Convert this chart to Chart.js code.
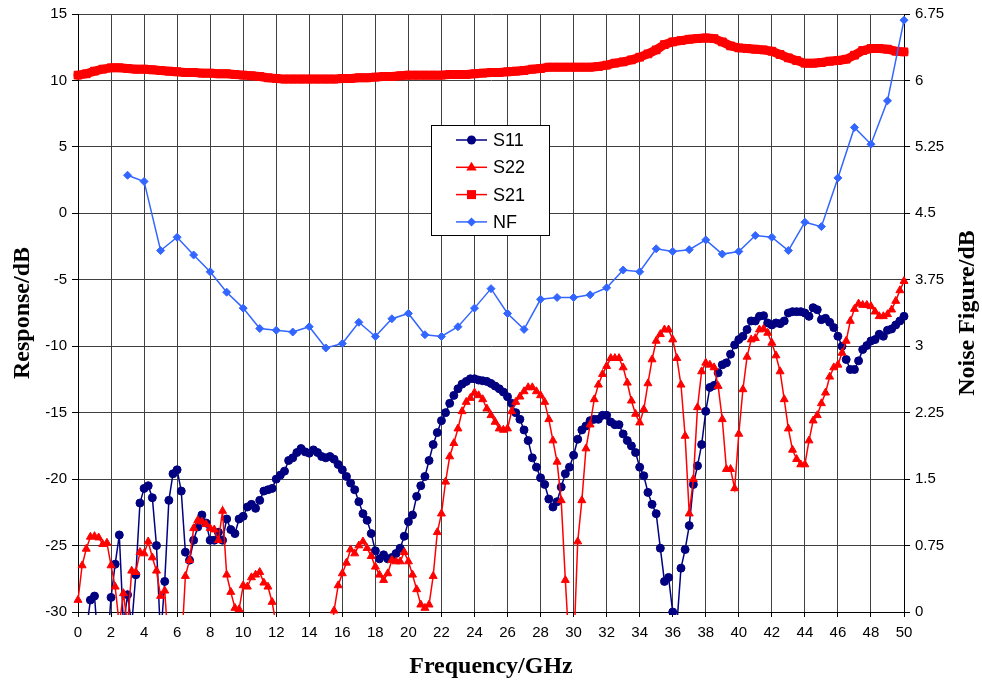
<!DOCTYPE html>
<html>
<head>
<meta charset="utf-8">
<script src="https://cdn.jsdelivr.net/npm/chart.js@4.4.1/dist/chart.umd.min.js"></script>
<style>
  html, body { margin: 0; padding: 0; background: #fff; }
  canvas { display: block; }
</style>
</head>
<body>
<canvas id="canvas" width="982" height="685"></canvas>
<script>
// balayage VNA : 201 points de 0 à 50 GHz (pas de 0,25 GHz)
const sweepGHz = Array.from({ length: 201 }, (_, i) => i * 0.25);
// S21 relevé tous les 0,5 GHz, NF tous les 1 GHz de 3 à 50 GHz
const s21GHz = Array.from({ length: 101 }, (_, i) => i * 0.5);
const nfGHz = Array.from({ length: 48 }, (_, i) => i + 3);

const s11 = [
  -34, -37, -31.5, -29.1, -28.8, -33, -38, -33, -28.9, -26.4,
  -24.2, -31, -28.7, -31, -27.2, -21.8, -20.7, -20.5, -21.4, -25.0,
  -32, -27.7, -21.6, -19.6, -19.3, -20.9, -25.5, -26.1, -24.6, -23.6,
  -22.7, -23.3, -24.6, -24.6, -24.0, -24.6, -23.0, -23.8, -24.1, -23.0,
  -22.8, -22.1, -21.9, -22.2, -21.6, -20.9, -20.8, -20.7, -20.0, -19.7,
  -19.4, -18.6, -18.4, -18.0, -17.7, -17.95, -18.05, -17.8, -18.0, -18.3,
  -18.4, -18.3, -18.5, -18.9, -19.3, -19.8, -20.3, -20.8, -21.7, -22.6,
  -23.1, -24.1, -25.4, -26.0, -25.7, -26.0, -25.9, -25.6, -25.2, -24.3,
  -23.2, -22.7, -21.3, -20.5, -19.8, -18.6, -17.4, -16.5, -15.6, -15.0,
  -14.3, -13.7, -13.2, -12.85, -12.65, -12.45, -12.45, -12.55, -12.6, -12.65,
  -12.8, -13.0, -13.2, -13.45, -13.8, -14.3, -15.0, -15.5, -16.3, -17.1,
  -18.4, -19.1, -19.9, -20.4, -21.5, -22.1, -21.7, -20.6, -19.6, -19.1,
  -18.2, -17.0, -16.3, -16.0, -15.6, -15.5, -15.5, -15.2, -15.2, -15.7,
  -15.9, -15.9, -16.6, -17.1, -17.5, -18.0, -19.1, -19.75, -21.0, -21.9,
  -22.6, -25.2, -27.7, -27.4, -30.0, -31, -26.7, -25.3, -23.5, -20.4,
  -19.0, -17.4, -14.9, -13.1, -12.95, -12.0, -11.4, -11.25, -10.6, -9.9,
  -9.5, -9.25, -8.75, -8.1, -8.1, -7.75, -7.7, -8.25, -8.4, -8.25,
  -8.3, -8.1, -7.5, -7.4, -7.4, -7.4, -7.5, -7.75, -7.1, -7.25,
  -8.0, -7.9, -8.2, -8.6, -9.25, -10.0, -11.0, -11.75, -11.75, -11.1,
  -10.25, -9.95, -9.6, -9.5, -9.1, -9.25, -8.8, -8.7, -8.4, -8.1,
  -7.75
];

const s22 = [
  -29.1, -26.5, -25.25, -24.35, -24.3, -24.4, -24.9, -24.8, -26.5, -28.1,
  -31, -28.6, -31, -26.9, -27.0, -25.5, -25.6, -24.7, -25.9, -26.9,
  -28.8, -28.4, -33, -36, -36, -33, -27.3, -26.1, -23.7, -23.1,
  -23.2, -23.4, -23.7, -23.8, -24.6, -22.4, -27.2, -28.5, -29.7, -29.8,
  -28.0, -28.1, -27.4, -27.2, -27.0, -27.8, -28.1, -29.25, -31, -35,
  -35, -35, -35, -35, -35, -35, -35, -35, -35, -35,
  -35, -33, -29.9, -28.0, -27.1, -26.3, -25.3, -25.6, -25.0, -24.7,
  -25.2, -25.8, -26.6, -27.2, -27.6, -27.1, -26.1, -26.2, -26.2, -25.5,
  -26.2, -27.2, -28.3, -29.45, -29.7, -29.45, -27.3, -24.0, -22.6, -20.2,
  -18.3, -17.3, -16.2, -14.9, -14.2, -13.9, -13.5, -13.7, -14.0, -14.7,
  -15.2, -15.7, -16.2, -16.3, -16.2, -14.9, -14.2, -13.8, -13.4, -13.1,
  -13.1, -13.4, -13.7, -14.2, -15.5, -17.1, -18.7, -21.6, -27.6, -33,
  -33, -24.7, -21.6, -17.7, -15.9, -14.0, -12.9, -12.1, -11.5, -10.9,
  -10.9, -10.9, -11.6, -12.75, -14.1, -15.1, -15.75, -14.75, -12.8, -11.0,
  -9.6, -9.1, -8.75, -8.75, -9.5, -10.9, -12.9, -16.75, -22.6, -20.0,
  -14.6, -11.9, -11.25, -11.4, -11.6, -13.0, -15.5, -19.25, -19.25, -20.7,
  -16.6, -13.25, -10.8, -9.5, -9.4, -8.75, -8.7, -9.0, -9.75, -10.7,
  -11.9, -14.0, -16.2, -17.8, -18.5, -18.9, -18.9, -17.1, -15.6, -15.2,
  -14.3, -13.5, -12.3, -11.6, -11.4, -10.5, -9.6, -8.1, -7.2, -6.8,
  -6.9, -6.9, -7.0, -7.4, -7.75, -7.75, -7.6, -7.25, -6.6, -5.8,
  -5.1
];

const s21 = [
  10.4, 10.5, 10.7, 10.85, 10.95, 10.95, 10.9, 10.85, 10.85, 10.8,
  10.75, 10.7, 10.65, 10.6, 10.6, 10.55, 10.55, 10.5, 10.5, 10.45,
  10.4, 10.35, 10.3, 10.2, 10.15, 10.1, 10.1, 10.1, 10.1, 10.1,
  10.1, 10.1, 10.15, 10.15, 10.2, 10.2, 10.25, 10.3, 10.3, 10.35,
  10.4, 10.4, 10.4, 10.4, 10.4, 10.45, 10.45, 10.45, 10.5, 10.55,
  10.6, 10.6, 10.65, 10.7, 10.75, 10.85, 10.9, 11.0, 11.0, 11.0,
  11.0, 11.0, 11.0, 11.05, 11.15, 11.3, 11.4, 11.55, 11.75, 12.0,
  12.3, 12.7, 12.9, 13.0, 13.1, 13.15, 13.2, 13.15, 12.9, 12.6,
  12.45, 12.4, 12.35, 12.3, 12.2, 11.95, 11.7, 11.5, 11.3, 11.3,
  11.35, 11.45, 11.5, 11.6, 11.9, 12.25, 12.4, 12.4, 12.35, 12.2,
  12.15
];

const nf = [
  4.93, 4.86, 4.08, 4.23, 4.03, 3.84, 3.61, 3.43, 3.2, 3.18,
  3.16, 3.22, 2.98, 3.03, 3.27, 3.11, 3.31, 3.37, 3.13, 3.11,
  3.22, 3.43, 3.65, 3.37, 3.19, 3.53, 3.55, 3.55, 3.58, 3.66,
  3.86, 3.84, 4.1, 4.07, 4.09, 4.2, 4.04, 4.07, 4.25, 4.23,
  4.08, 4.4, 4.35, 4.9, 5.47, 5.28, 5.77, 6.68
];

const NAVY = '#000080';
const RED = '#ff0000';
const BLUE = '#3366ff';
const tickFont = { family: '"Liberation Sans", Arial, sans-serif', size: 15 };
const titleFont = { family: '"Liberation Serif", "Times New Roman", serif', size: 24, weight: 'bold' };
const clip = { left: 6, top: 6, right: 6, bottom: 3 };

function xy(xs, ys) {
    return ys.map((v, i) => ({ x: xs[i], y: v }));
}

// petit dessin des marqueurs pour la légende
function marker(ctx, style, x, y, r) {
    ctx.beginPath();
    if (style === 'circle') {
        ctx.arc(x, y, r, 0, Math.PI * 2);
    } else if (style === 'triangle') {
        ctx.moveTo(x, y - r);
        ctx.lineTo(x + r * 0.95, y + r * 0.6);
        ctx.lineTo(x - r * 0.95, y + r * 0.6);
        ctx.closePath();
    } else if (style === 'rect') {
        ctx.rect(x - r, y - r, 2 * r, 2 * r);
    } else {
        ctx.moveTo(x, y - r);
        ctx.lineTo(x + r, y);
        ctx.lineTo(x, y + r);
        ctx.lineTo(x - r, y);
        ctx.closePath();
    }
    ctx.fill();
}

const legendItems = [
    { text: 'S11', color: NAVY, style: 'circle', r: 4.5 },
    { text: 'S22', color: RED, style: 'triangle', r: 5.5 },
    { text: 'S21', color: RED, style: 'rect', r: 4.5 },
    { text: 'NF', color: BLUE, style: 'diamond', r: 4.5 }
];

const legendBox = {
    id: 'legendBox',
    afterDraw(chart) {
        const ctx = chart.ctx;
        ctx.save();
        ctx.fillStyle = '#fff';
        ctx.fillRect(431, 125, 118, 110);
        ctx.strokeStyle = '#000';
        ctx.lineWidth = 1;
        ctx.strokeRect(431.5, 125.5, 118, 110);
        ctx.font = '18px "Liberation Sans", Arial, sans-serif';
        ctx.textBaseline = 'middle';
        legendItems.forEach((it, i) => {
            const y = 140 + i * 27.3;
            ctx.strokeStyle = it.color;
            ctx.lineWidth = 1.5;
            ctx.beginPath();
            ctx.moveTo(456, y);
            ctx.lineTo(487, y);
            ctx.stroke();
            ctx.fillStyle = it.color;
            marker(ctx, it.style, 471.5, y, it.r);
            ctx.fillStyle = '#000';
            ctx.fillText(it.text, 493, y + 1);
        });
        ctx.restore();
    }
};

// titre de l'axe secondaire, écrit de bas en haut comme à gauche
const rightTitle = {
    id: 'rightTitle',
    afterDraw(chart) {
        const ctx = chart.ctx;
        const a = chart.chartArea;
        ctx.save();
        ctx.translate(968, (a.top + a.bottom) / 2);
        ctx.rotate(-Math.PI / 2);
        ctx.font = 'bold 24px "Liberation Serif", "Times New Roman", serif';
        ctx.fillStyle = '#000';
        ctx.textAlign = 'center';
        ctx.textBaseline = 'middle';
        ctx.fillText('Noise Figure/dB', 0, 0);
        ctx.restore();
    }
};

const config = {
    type: 'line',
    data: {
        datasets: [
            {
                label: 'S11', data: xy(sweepGHz, s11), yAxisID: 'y', order: 4,
                borderColor: NAVY, backgroundColor: NAVY, borderWidth: 1.5,
                pointStyle: 'circle', pointRadius: 4, pointBorderWidth: 1, clip: clip
            },
            {
                label: 'S22', data: xy(sweepGHz, s22), yAxisID: 'y', order: 3,
                borderColor: RED, backgroundColor: RED, borderWidth: 1.5,
                pointStyle: 'triangle', pointRadius: 4.6, pointBorderWidth: 1, clip: clip
            },
            {
                label: 'S21', data: xy(s21GHz, s21), yAxisID: 'y', order: 2,
                borderColor: RED, backgroundColor: RED, borderWidth: 9,
                borderJoinStyle: 'round', borderCapStyle: 'round',
                pointStyle: 'rect', pointRadius: 5.5, pointBorderWidth: 1, clip: clip
            },
            {
                label: 'NF', data: xy(nfGHz, nf), yAxisID: 'y2', order: 1,
                borderColor: BLUE, backgroundColor: BLUE, borderWidth: 1.5,
                pointStyle: 'rectRot', pointRadius: 4, pointBorderWidth: 1, clip: clip
            }
        ]
    },
    options: {
        responsive: false,
        animation: false,
        layout: { padding: { top: 12, left: 0, right: 0, bottom: 0 } },
        plugins: {
            legend: { display: false },
            tooltip: { enabled: false }
        },
        scales: {
            x: {
                type: 'linear', min: 0, max: 50,
                ticks: { stepSize: 2, autoSkip: false, maxRotation: 0, color: '#000', font: tickFont, padding: 7 },
                grid: { color: '#404040', lineWidth: 1, tickLength: 5, tickColor: '#000' },
                border: { color: '#000', width: 1 },
                title: { display: true, text: 'Frequency/GHz', color: '#000', font: titleFont, padding: { top: 2, bottom: 4 } },
                afterFit(s) { s.height = 73; }
            },
            y: {
                type: 'linear', position: 'left', min: -30, max: 15,
                ticks: { stepSize: 5, color: '#000', font: tickFont, padding: 5 },
                grid: { color: '#404040', lineWidth: 1, tickLength: 6, tickColor: '#000' },
                border: { color: '#000', width: 1 },
                title: { display: true, text: 'Response/dB', color: '#000', font: titleFont, padding: { top: 8, bottom: 0 } },
                afterFit(s) { s.width = 78; }
            },
            y2: {
                type: 'linear', position: 'right', min: 0, max: 6.75,
                ticks: {
                    stepSize: 0.75, color: '#000', font: tickFont, padding: 5,
                    callback: v => String(Number(v.toFixed(2)))
                },
                grid: { drawOnChartArea: false, tickLength: 6, tickColor: '#000' },
                border: { color: '#000', width: 1 },
                afterFit(s) { s.width = 78; }
            }
        }
    },
    plugins: [legendBox, rightTitle]
};

new Chart(document.getElementById('canvas'), config);
</script>
</body>
</html>
